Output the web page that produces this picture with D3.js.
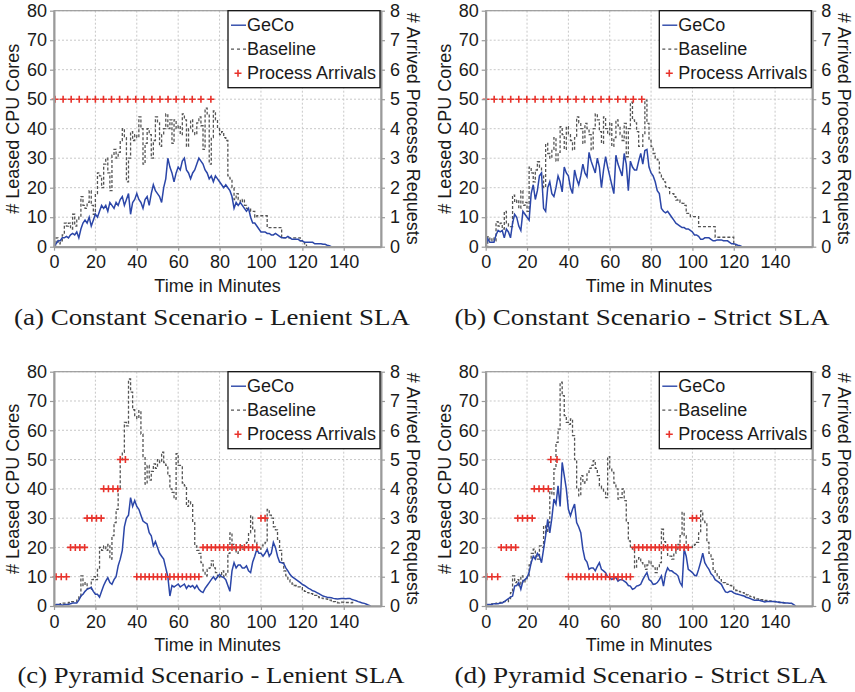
<!DOCTYPE html>
<html>
<head>
<meta charset="utf-8">
<script src="https://cdn.jsdelivr.net/npm/d3@7"></script>
<style>
  body { margin: 0; background: #fff; }
  svg { display: block; font-family: "Liberation Sans", Arial, sans-serif; }
</style>
</head>
<body>
<svg id="chart" width="855" height="692"></svg>
<script>
// series are sampled once per minute, starting at minute 0
const minuteStep = 1;

const xTicks = [0, 20, 40, 60, 80, 100, 120, 140];
const coreTicks = [0, 10, 20, 30, 40, 50, 60, 70, 80];
const arrivalTicks = [0, 1, 2, 3, 4, 5, 6, 7, 8];

const captions = [
  "(a) Constant Scenario - Lenient SLA",
  "(b) Constant Scenario - Strict SLA",
  "(c) Pyramid Scenario - Lenient SLA",
  "(d) Pyramid Scenario - Strict SLA"
];

// (a) constant / lenient
const gecoA = [0,1,2,2,3,3,3.5,3,4,4.5, 4,5,3,6,8,9,8,10,7,9, 11,10,12,14,13,14,12,15,14,13,
  15,14,16,17,14,16,18,11,15,16, 18,16,15,13,16,17,14,18,21,19, 18,17,15,20,23,30,27,25,22,25,
  27,26,29,30,26,25,23,25,26,28, 30,29,28,26,25,23,24,22,24,23, 22,21,20,21,20,19,17,13,15,14,
  15,14,13,12,13,10,8,8,7,6, 5,5,5,4.5,4.5,4,4,4.5,4,3.5, 3,3,3,3.5,3,2.5,2.5,2.5,2.5,2,
  2,1.5,1.5,1.5,1.5,1.5,1,1,1,1, 0.8,0.8,0.5,0.3,0];
const baseA = [0,3,1,2,4,8,7,8,6,11, 7,9,10,17,14,13,15,19,14,11, 18,25,24,20,28,30,25,19,31,33,
  30,32,36,40,37,22,30,39,36,38, 37,44,40,28,35,40,38,30,36,44, 42,34,38,40,45,40,43,35,43,40,
  41,38,45,43,34,40,43,39,38,42, 44,41,33,47,45,28,37,46,43,40, 38,39,37,36,24,23,20,16,18,16,
  15,16,14,13,13,12,12,10,10.5,10.5, 10.5,10.5,10.5,6.5,6.5,6.5,6.5,6.5,6.5,6.5,
  3,3,3,3,3,3,3,3,3,2, 1.5,1,0];
const arrTimeA = [0.5,4.4,8.3,12.2,16.1,20,23.9,27.8,31.7,35.6,39.5,43.4,47.3,51.2,55.1,59,62.9,66.8,71,75.8];
const arrCountA = [5,5,5,5,5,5,5,5,5,5,5,5,5,5,5,5,5,5,5,5];

// (b) constant / strict
const gecoB = [0,2.7,1.5,1.5,1.5,4,5.5,5,5.5,3, 6,5,3,8,11,10,7,5.5,12,11, 10,9,18,21,16,19,24,25,13,12,
  20,22,18,17,20,24,22,18.6,27,25, 24,20,18,26,23,21,24,28,25,23.7, 32,29,27,25,30,27,20,26,30.5,27,
  24,21,18,31,28,26,24,31.6,28,19, 29,27,26,26,29,31.6,28,32.6,33,27, 25,24,22,19,18,13,12,11.5,12,11,
  10,9,8,7.5,7,6.5,6.5,6,6,5.5, 5,4,4,3.5,2.5,2.5,3,3,3,2.5, 2,2,2.3,2.3,2.3,2,2,2,1.5,1,
  1,0.8,0.5,0.3,0];
const baseB = [0,3.4,2,3,2,8.5,7,8,6,12, 8,7,6.8,17.5,15,15.8,13,19,14,15, 12,27,25,22,26,28.8,27,24,20,35,
  31.6,30,33,37,29,32,40.7,38,33,40.7, 38,36,32.8,37,44,42,40,35,41.8,40, 38,32.8,40,45,43,39,35,44,40,38,
  42,34,37,43,41,38,36,41.8,30.5,40, 49,43,42,39,34,34,38,49.7,41.8,36, 34,31.6,30,29.4,25,23,22,20.3,20,18,
  18,17,15.8,16,15,14.7,14,11.3,11.3,10.2, 10.2,10.2,10.2,6.8,6.8,6.8,6.8,6.8,6.8,6.8,
  6.8,3.2,3.2,3.2,3.2,3.2,3.2,3.2,3.2,3.2, 1,0];
const arrTimeB = [0.2,4.1,8.1,12.1,16,19.9,23.9,27.9,31.8,35.8,39.7,43.7,47.7,51.8,55.8,59.8,63.9,67.7,71.4,75.5];
const arrCountB = [5,5,5,5,5,5,5,5,5,5,5,5,5,5,5,5,5,5,5,5];

// (c) pyramid / lenient
const gecoC = [0,0.5,0.5,0.5,0.3,0.5,0.5,0.5,0.8,1, 1,1,2,3.4,4,5,5.7,6,6.3,5, 4,4,3,5,7,8.5,9.7,8,7.4,9,
  10,13.7,16,19,27,30,31,37,34,36, 34,33,31,29,28.5,28,25,24,20.5,22, 20,18,17,16,13,10,3.4,7,6.5,7,
  7.5,6.5,7,7.5,6,7,6.5,7,6,7, 5.7,5,4.6,6,7,8,9,10,9,10, 10.8,10,9.7,9,7,5,12,14.8,13,14,
  14,13,13,13.7,12,11.4,15,17,19.4,18, 18,17,18,19.4,17,18,21.7,20,17,15, 14.8,14.5,13,12,10.8,10,9.5,9,8.5,8,
  7.4,7,6.5,6,5.7,5.2,5,4.6,4.2,3.8, 3.4,3.2,3,2.9,2.8,2.6,2.5,2.4,2.5,2.6, 2.6,2.5,2.6,2.6,2.2,2,1.8,1.5,1.3,1,
  0.9,0.6,0.3,0];
const baseC = [0.5,0.5,0.5,0.8,1,1,1,1.2,1.5,1.5, 1.5,2,3.4,10.3,7,8,6,5.7,9,10, 9,12.5,20,19,20.5,19,21,16,24,28.5,
  33,40,50,52.5,62.7,61.5,77.5,73,67,65, 64,66.7,58.7,51,41.6,48,43,46,48.5,47, 50,49,52.5,49,48,44.5,40,38.8,36.5,52,
  48,48,42,41,34,36,34.8,28.5,20.5,19, 18,14.8,12,10.3,12.5,13,15.4,13,11.4,9.7, 10,12,10,11,18,25,21,19.4,18,19,
  20.5,19.4,20,21.7,25,30.8,26,21.7,20,19.4, 20.5,21,21.7,33,31,30,27,26,22.8,19, 14.8,12,10.3,9,8,7.5,7,6.8,6.5,6.3,
  5.5,5,4.6,4.5,4.2,4,3.6,3.2,2.9,2.7, 2.5,2.4,2.3,2,1.8,1.5,1.3,1.1,1.2,1.3, 1.2,1.2,1.2,1.1,1.2,1.2];
const arrTimeC = [1,3.5,6, 8,10.3,12.5,14.8, 16,18.3,20.5,22.8, 24,26.3,28.5,30.8, 32,34.5,
  40,42,44,46,48,50,52,54,56,58,60,62,64,66,68,70,
  72,74,76,78,80,82,84,86,88,90,92,94,96,98, 100,102];
const arrCountC = [1,1,1, 2,2,2,2, 3,3,3,3, 4,4,4,4, 5,5,
  1,1,1,1,1,1,1,1,1,1,1,1,1,1,1,1,
  2,2,2,2,2,2,2,2,2,2,2,2,2,2, 3,3];

// (d) pyramid / strict
const gecoD = [0.5,0.5,0.5,0.5,0.8,0.8,0.8,1,1,1.5, 2,2.5,3,3.4,6.8,7,8,5.7,8.5,9, 9.7,11.4,14.8,17,16,18,17,14.8,19.4,24,
  29.6,25,30,36.5,34.8,41,34,49,44.5,40, 33,30.8,33,34.8,28.5,27,25,19.4,16,15, 12.5,13,13,12,13.5,14.8,12.5,12,11.4,10,
  9.7,9,9.5,9.7,8.5,9,9,8.5,8,7, 6.8,5.7,6,6.8,7,7.4,9,10.3,11.4,9, 8.5,7.4,7.5,8,9,10.3,6.8,11,13,12,
  12,11.4,11,10.3,8,6.8,19.4,17,12.5,12, 11.4,10.5,10.3,12.5,15,18,14.8,13.5,12.5,11, 10.3,9,8.5,8,7.4,6,4.8,4.6,5,5,
  4.5,4.2,4,3.8,3.6,3.4,3,2.8,2.5,2.2, 2,2,2,1.8,1.6,1.4,1.5,1.5,1.5,1.5, 1.5,1.4,1.3,1.2,1.1,1,1,0.9,0.9,0.5,
  0];
const baseD = [0.5,0.5,0.5,0.8,0.8,1,1,1.2,1.5,1.5, 1.5,2.5,4.6,10.3,8,9,7,10.3,8,9, 10.3,14,18,19.4,17,16,20.5,20,27.4,25,
  28.5,40,38,46.8,55.9,60.4,76.4,71.8,65,62.7, 62,63.9,58.2,50,40,37.6,44.5,42,43,45.6, 47,48,49.6,47,44.5,41,40,38.8,37,51,
  47,45.6,42,40,36.5,37,40,36,28.5,22.2, 20,19.4,13,16,16.5,14.8,14,12.5,14,15.4, 13.7,13,11.4,13,14.8,26.2,22,19.4,17,17,
  16,18,19.4,21,24,32,24,19.4,20,20, 20.5,21,21.7,25,32.5,29,28.5,21.7,18,16, 12.5,11,10.3,9,8,8,7.5,7.4,7,6.5,
  5.7,5.3,5,4.8,4.6,4,3.8,3.4,3.2,3, 2.6,2.4,2.3,2.2,2,1.9,1.8,1.7,1.6,1.5, 1.4,1.3,1.2,1.2,1.1,1];
const arrTimeD = [0.5,3,5.8, 7.5,10,12.3,14.5, 15.5,17.8,20.2,22.5, 23.5,25.8,28,30.3, 31.5,34.5,
  40,42,44,46,48,50,52,54,56,58,60,62,64,66,68,70,
  72,74,76,78,80,82,84,86,88,90,92,94,96,98, 100,102];
const arrCountD = [1,1,1, 2,2,2,2, 3,3,3,3, 4,4,4,4, 5,5,
  1,1,1,1,1,1,1,1,1,1,1,1,1,1,1,1,
  2,2,2,2,2,2,2,2,2,2,2,2,2,2, 3,3];

const blue = "#2b46a8";
const gray = "#555";
const red = "#e8322b";
const frameGray = "#9a9a9a";

const svg = d3.select("#chart");

const panels = [
  { left: 54, right: 381, top: 10.7, bottom: 246.7, capX: 212, capY: 325, capW: 396,
    geco: gecoA, base: baseA, arrT: arrTimeA, arrN: arrCountA, caption: captions[0] },
  { left: 485.7, right: 812.3, top: 10.7, bottom: 246.7, capX: 642, capY: 325, capW: 375,
    geco: gecoB, base: baseB, arrT: arrTimeB, arrN: arrCountB, caption: captions[1] },
  { left: 54, right: 381, top: 371.7, bottom: 606, capX: 211, capY: 683, capW: 387,
    geco: gecoC, base: baseC, arrT: arrTimeC, arrN: arrCountC, caption: captions[2] },
  { left: 485.7, right: 812.3, top: 371.7, bottom: 606, capX: 641, capY: 683, capW: 373,
    geco: gecoD, base: baseD, arrT: arrTimeD, arrN: arrCountD, caption: captions[3] }
];

function drawPanel(p) {
  const g = svg.append("g");

  const x = d3.scaleLinear().domain([0, 158]).range([p.left, p.right]);
  const y = d3.scaleLinear().domain([0, 80]).range([p.bottom, p.top]);
  const y2 = d3.scaleLinear().domain([0, 8]).range([p.bottom, p.top]);

  // dotted grid
  g.append("g").selectAll("line").data(coreTicks.slice(1)).enter().append("line")
    .attr("x1", p.left).attr("x2", p.right)
    .attr("y1", d => y(d)).attr("y2", d => y(d))
    .attr("stroke", "#c8c8c8").attr("stroke-dasharray", "2,2");
  g.append("g").selectAll("line").data(xTicks.slice(1)).enter().append("line")
    .attr("x1", d => x(d)).attr("x2", d => x(d))
    .attr("y1", p.top).attr("y2", p.bottom)
    .attr("stroke", "#c8c8c8").attr("stroke-dasharray", "2,2");

  // Baseline (dashed, step-like)
  const stepLine = d3.line()
    .x((d, i) => x(i * minuteStep))
    .y(d => y(d))
    .curve(d3.curveStepAfter);
  g.append("path")
    .datum(p.base)
    .attr("d", stepLine)
    .attr("fill", "none")
    .attr("stroke", gray)
    .attr("stroke-width", 1.3)
    .attr("stroke-dasharray", "3,2");

  // GeCo
  const line = d3.line()
    .x((d, i) => x(i * minuteStep))
    .y(d => y(d));
  g.append("path")
    .datum(p.geco)
    .attr("d", line)
    .attr("fill", "none")
    .attr("stroke", blue)
    .attr("stroke-width", 1.5);

  // Process arrivals on the right axis
  g.append("g").selectAll("path").data(p.arrT).enter().append("path")
    .attr("transform", (d, i) => `translate(${x(d)},${y2(p.arrN[i])})`)
    .attr("d", "M-3.5,0H3.5M0,-3.5V3.5")
    .attr("stroke", red)
    .attr("stroke-width", 1.6);

  // frame
  g.append("rect")
    .attr("x", p.left).attr("y", p.top)
    .attr("width", p.right - p.left).attr("height", p.bottom - p.top)
    .attr("fill", "none").attr("stroke", frameGray).attr("stroke-width", 1.2);

  // axes
  const styleAxis = sel => {
    sel.select(".domain").attr("stroke", frameGray).attr("stroke-width", 2);
    sel.selectAll(".tick line").attr("stroke", frameGray).attr("stroke-width", 1.2);
    sel.selectAll("text").attr("font-size", 18).attr("fill", "#1a1a1a")
      .attr("font-family", "Liberation Sans, Arial, sans-serif");
  };
  g.append("g")
    .attr("transform", `translate(0,${p.bottom})`)
    .call(d3.axisBottom(x).tickValues(xTicks).tickSize(4).tickPadding(5).tickSizeOuter(0))
    .call(styleAxis);
  g.append("g")
    .attr("transform", `translate(${p.left},0)`)
    .call(d3.axisLeft(y).tickValues(coreTicks).tickSize(4).tickPadding(3).tickSizeOuter(0))
    .call(styleAxis);
  g.append("g")
    .attr("transform", `translate(${p.right},0)`)
    .call(d3.axisRight(y2).tickValues(arrivalTicks).tickSize(4).tickPadding(5).tickSizeOuter(0))
    .call(styleAxis);

  const midY = (p.top + p.bottom) / 2;
  g.append("text")
    .attr("transform", `translate(${p.left - 41},${midY}) rotate(-90)`)
    .attr("text-anchor", "middle").attr("dominant-baseline", "central")
    .attr("font-size", 18).attr("fill", "#1a1a1a")
    .text("# Leased CPU Cores");
  g.append("text")
    .attr("transform", `translate(${p.right + 32},${midY}) rotate(90)`)
    .attr("text-anchor", "middle").attr("dominant-baseline", "central")
    .attr("font-size", 18).attr("fill", "#1a1a1a")
    .text("# Arrived Processe Requests");
  g.append("text")
    .attr("x", (p.left + p.right) / 2).attr("y", p.bottom + 45)
    .attr("text-anchor", "middle")
    .attr("font-size", 18).attr("fill", "#1a1a1a")
    .text("Time in Minutes");

  // legend
  const lx = p.right - 153, ly = p.top;
  g.append("rect")
    .attr("x", lx).attr("y", ly).attr("width", 152).attr("height", 77)
    .attr("fill", "#fff").attr("stroke", "#111").attr("stroke-width", 1.3);
  const items = [
    { name: "GeCo", kind: "line" },
    { name: "Baseline", kind: "dash" },
    { name: "Process Arrivals", kind: "cross" }
  ];
  items.forEach((it, i) => {
    const cy = ly + 14.5 + i * 24;
    if (it.kind === "line") {
      g.append("line").attr("x1", lx + 3).attr("x2", lx + 18).attr("y1", cy).attr("y2", cy)
        .attr("stroke", blue).attr("stroke-width", 1.4);
    } else if (it.kind === "dash") {
      g.append("line").attr("x1", lx + 3).attr("x2", lx + 18).attr("y1", cy).attr("y2", cy)
        .attr("stroke", gray).attr("stroke-width", 1.3).attr("stroke-dasharray", "3,3");
    } else {
      g.append("path").attr("transform", `translate(${lx + 10},${cy})`)
        .attr("d", "M-3.5,0H3.5M0,-3.5V3.5").attr("stroke", red).attr("stroke-width", 1.6);
    }
    g.append("text")
      .attr("x", lx + 19).attr("y", cy).attr("dominant-baseline", "central")
      .attr("font-size", 18).attr("fill", "#1a1a1a")
      .text(it.name);
  });

  // caption
  g.append("text")
    .attr("x", p.capX).attr("y", p.capY)
    .attr("text-anchor", "middle")
    .attr("font-family", "Liberation Serif, DejaVu Serif, serif")
    .attr("font-size", 23).attr("fill", "#1a1a1a")
    .attr("textLength", p.capW).attr("lengthAdjust", "spacingAndGlyphs")
    .text(p.caption);
}

panels.forEach(drawPanel);
</script>
</body>
</html>
